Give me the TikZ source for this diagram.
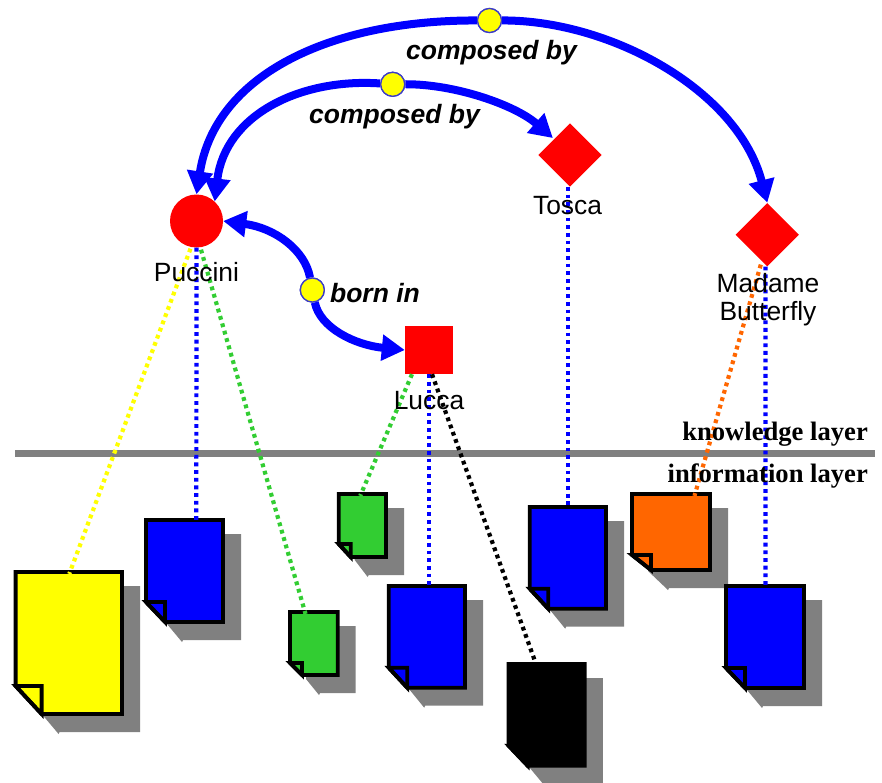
\documentclass[tikz,border=0pt]{standalone}
\usepackage{fontspec}
\setmainfont{Liberation Sans}
\newfontfamily\serifbf{Liberation Serif}
\usetikzlibrary{arrows.meta,shapes.geometric}
\definecolor{dgreen}{RGB}{50,205,50}
\definecolor{dorange}{RGB}{255,102,0}
\definecolor{pyellow}{RGB}{255,255,0}
\definecolor{pblue}{RGB}{0,0,255}
\definecolor{pred}{RGB}{255,0,0}
\definecolor{pgray}{RGB}{128,128,128}
\definecolor{knotline}{RGB}{60,60,200}
\tikzset{
  relation/.style={draw=pblue,line width=8pt,-{Triangle[length=23pt,width=25pt]}},
  knot/.style={circle,fill=pyellow,draw=knotline,line width=1.3pt,minimum size=24pt,inner sep=0pt},
  concept/.style={fill=pred,inner sep=0pt},
  occ/.style={line width=4.2pt,dash pattern=on 3.8pt off 3.87pt,shorten >=-2pt},
  relabel/.style={font=\fontsize{26.5}{28}\selectfont\bfseries\itshape,inner sep=0pt},
  topicname/.style={font=\fontsize{26.4}{28}\selectfont,inner sep=0pt,align=center},
  layertext/.style={font=\fontsize{26.6}{27}\selectfont\serifbf\bfseries,inner sep=0pt,anchor=east},
  sheet/.style={line width=3.8pt,draw=black,miter limit=10}
}
% name, left, top, right, bottom, fold width, fold height, colour, x of the attachment
\newcommand{\docsheet}[9]{%
  \fill[pgray] (#2+16,#3+14) -- (#4+18,#3+14) -- (#4+18,#5+18) -- (#2+#6+18,#5+18) -- (#2+#6+17,#5+20) -- (#2+16,#5-#7+16) -- cycle;
  \filldraw[sheet,fill=#8] (#2,#3) -- (#4,#3) -- (#4,#5) -- (#2+#6,#5) -- (#2,#5-#7) -- cycle;
  \draw[sheet,line join=miter] (#2,#5-#7) -- (#2+#6,#5-#7) -- (#2+#6,#5) -- cycle;
  \coordinate (#1) at (#9,#3);
}
\begin{document}
\begin{tikzpicture}[x=1pt,y=-1pt]
\useasboundingbox (0,0) rectangle (882,782);
% concepts
\node[concept,circle,minimum size=53pt] (puccini) at (196.5,221) {};
\node[concept,minimum size=48pt] (lucca) at (429,350) {};
\node[concept,diamond,minimum size=63.4pt] (tosca) at (570,155) {};
\node[concept,diamond,minimum size=63.4pt] (butterfly) at (767.3,234.7) {};
% layer separator
\coordinate (barl) at (15,453.7);
\coordinate (barr) at (875,453.7);
\draw[pgray,line width=7.5pt] (barl) -- (barr);
% documents
\docsheet{y}{15.6}{572}{122}{714}{26}{28}{pyellow}{70}
\docsheet{bluea}{146}{520}{223}{622}{19}{20}{pblue}{196.3}
\docsheet{greena}{338.7}{494}{386}{557}{12}{13}{dgreen}{361}
\docsheet{greenb}{290}{612}{337.7}{675}{12}{12}{dgreen}{305}
\docsheet{blueb}{388.7}{586}{465}{687.7}{18.5}{20}{pblue}{429}
\docsheet{bluec}{529.7}{507}{606}{608.7}{18.5}{20}{pblue}{567.7}
\docsheet{o}{632}{494}{710}{570}{19}{15}{dorange}{695}
\docsheet{blued}{726}{586}{804}{688}{19}{20}{pblue}{765.4}
\docsheet{k}{508.6}{664}{584.8}{765.7}{19}{20}{black}{536}
% occurrence lines
\draw[occ,pyellow] (puccini.south) ++(-6,1) -- (y);
\draw[occ,pblue] (puccini.south) -- (bluea);
\draw[occ,dgreen] (puccini.south) ++(4.5,2) -- (greenb);
\draw[occ,dgreen] (lucca.south) ++(-17,0) -- (greena);
\draw[occ,pblue] (lucca.south) -- (blueb);
\draw[occ,black] (lucca.south) ++(3,0) -- (k);
\draw[occ,pblue] (tosca.south) ++(-2.3,0) -- (bluec);
\draw[occ,dorange] (butterfly.south) ++(-6.5,-2) -- (o);
\draw[occ,pblue] (butterfly.south) ++(-1.9,0) -- (blued);
% relations
\node[knot] (k1) at (489.5,20.5) {};
\node[knot] (k2) at (392.7,84.3) {};
\node[knot] (k3) at (312.3,290) {};
\draw[relation] (k1) .. controls (330,20) and (215,75) .. (puccini.north);
\draw[relation] (k1) .. controls (610,20) and (738,90) .. (butterfly.north);
\draw[relation] (k2) .. controls (300,78) and (225,115) .. (puccini.47);
\draw[relation,shorten >=1.5pt] (k2) .. controls (455,84) and (515,105) .. (tosca.135);
\draw[relation] (k3) .. controls (305,250) and (275,228) .. (puccini.east);
\draw[relation] (k3) .. controls (320,328) and (355,345) .. (lucca.west);
\node[knot] at (k1) {};
\node[knot] at (k2) {};
\node[knot] at (k3) {};
% labels
\node[relabel] (l1) at (491.5,52.5) {composed by};
\node[relabel] (l2) at (394.5,116.5) {composed by};
\node[relabel] (l3) at (375,293) {born in};
\node[topicname] (n1) at (196.5,272) {Puccini};
\node[topicname] (n2) at (429,400.5) {Lucca};
\node[topicname] (n3) at (567.5,206) {Tosca};
\node[topicname] (n4) at (768,300) {Madame\\Butterfly};
\node[layertext] (t1) at (868,434.5) {knowledge layer};
\node[layertext] (t2) at (868,476) {information layer};
\end{tikzpicture}
\end{document}
